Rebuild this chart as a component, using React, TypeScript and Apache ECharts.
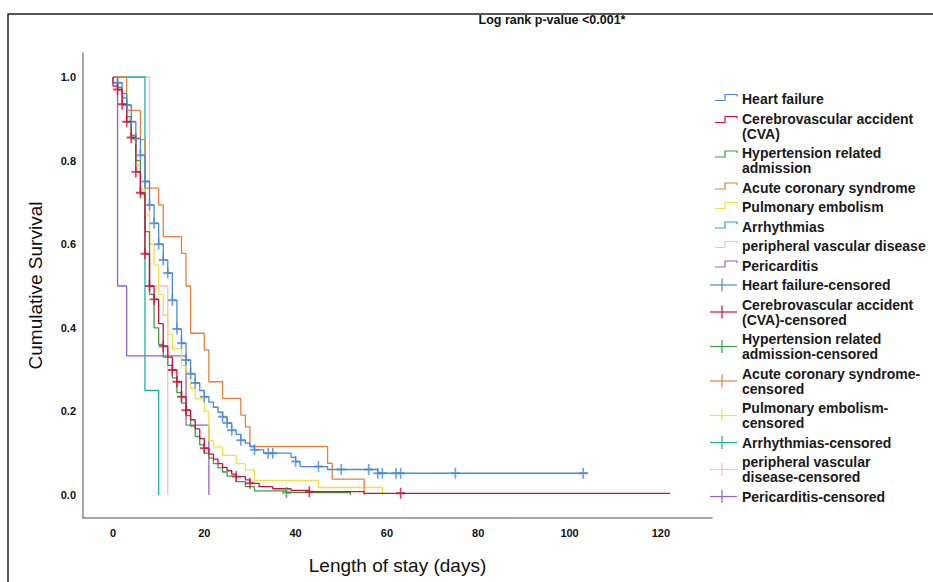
import React, { useEffect, useRef } from "react";
import * as echarts from "echarts";

// ---------- data ----------
const groupNames = [
  "Heart failure",
  "Cerebrovascular accident (CVA)",
  "Hypertension related admission",
  "Acute coronary syndrome",
  "Pulmonary embolism",
  "Arrhythmias",
  "peripheral vascular disease",
  "Pericarditis",
];

const groupColors = ["#4a8ad6", "#c8143c", "#3f9a4a", "#e5803e", "#ece24a", "#1cb3a3", "#f5bccb", "#9b5fc4"];

// Kaplan-Meier steps: [days, cumulative survival]
const hfSurv = [[0,1],[0,0.986],[2,0.96],[3,0.933],[4,0.893],[5,0.853],[6,0.813],[7,0.75],[8,0.694],[9,0.65],[10,0.6],[11,0.562],[12,0.531],[13,0.466],[14,0.397],[15,0.363],[16,0.323],[17,0.29],[18,0.268],[19,0.25],[20,0.235],[21,0.222],[22,0.21],[23,0.198],[24,0.187],[25,0.172],[26,0.155],[27,0.145],[28,0.131],[29,0.124],[30,0.116],[31,0.108],[33,0.1],[39,0.09],[40,0.08],[41,0.068],[47,0.061],[58,0.052],[104,0.052]];
const cvaSurv = [[0,1],[0,0.978],[1,0.97],[2,0.935],[3,0.893],[4,0.855],[5,0.773],[6,0.723],[7,0.577],[8,0.5],[9,0.468],[10,0.41],[11,0.356],[12,0.33],[13,0.299],[14,0.271],[15,0.235],[16,0.203],[17,0.18],[18,0.158],[19,0.135],[20,0.112],[21,0.098],[22,0.086],[23,0.075],[24,0.066],[25,0.058],[26,0.05],[27,0.044],[29,0.036],[30,0.028],[32,0.02],[35,0.015],[39,0.011],[43,0.008],[55,0.004],[122,0.004]];
const htnSurv = [[0,1],[1,0.975],[2,0.95],[3,0.905],[4,0.86],[5,0.8],[6,0.72],[7,0.63],[8,0.48],[9,0.4],[10,0.36],[11,0.33],[12,0.31],[13,0.28],[14,0.245],[15,0.22],[16,0.19],[17,0.165],[18,0.14],[19,0.12],[20,0.1],[21,0.088],[22,0.075],[23,0.065],[24,0.055],[25,0.045],[27,0.032],[29,0.02],[31,0.01],[38,0.006],[52,0]];
const acsSurv = [[0,1],[3,0.92],[6,0.85],[7,0.734],[10,0.694],[11,0.618],[15,0.578],[16,0.5],[17,0.387],[20,0.347],[21,0.271],[24,0.231],[28,0.191],[29,0.163],[30,0.116],[47,0.076],[48,0.038],[55,0]];
const peSurv = [[0,1],[1,0.97],[2,0.95],[3,0.9],[4,0.85],[5,0.79],[6,0.73],[7,0.67],[8,0.6],[9,0.55],[10,0.48],[11,0.43],[12,0.385],[13,0.35],[15,0.31],[16,0.29],[17,0.255],[18,0.23],[20,0.2],[21,0.13],[22,0.115],[24,0.095],[27,0.075],[29,0.06],[31,0.035],[45,0.018],[59,0]];
const arrSurv = [[0,1],[7,0.25],[10,0]];
const pvdSurv = [[0,1],[8,0.5],[12,0]];
const periSurv = [[0,1],[1,0.5],[3,0.333],[16,0.167],[21,0]];

// censored observations: [days, cumulative survival]
const hfCens = [[1,0.986],[3,0.933],[4,0.893],[5,0.853],[6,0.813],[7,0.75],[8,0.694],[9,0.65],[10,0.6],[11,0.562],[12,0.531],[13,0.466],[14,0.397],[15,0.363],[16,0.323],[17,0.29],[18,0.268],[20,0.235],[24,0.187],[25,0.172],[26,0.155],[28,0.131],[31,0.108],[34,0.1],[35,0.1],[40,0.08],[45,0.068],[50,0.061],[56,0.061],[58,0.052],[59,0.052],[62,0.052],[63,0.052],[75,0.052],[103,0.052]];
const cvaCens = [[1,0.97],[2,0.935],[3,0.893],[4,0.855],[5,0.773],[6,0.723],[7,0.577],[8,0.5],[9,0.468],[11,0.356],[13,0.299],[14,0.271],[15,0.235],[16,0.203],[20,0.112],[27,0.044],[30,0.028],[43,0.008],[63,0.004]];
const htnCens = [[38,0.006]];
const acsCens: number[][] = [];
const peCens: number[][] = [];
const arrCens: number[][] = [];
const pvdCens: number[][] = [];
const periCens: number[][] = [];

const xTicks = [0, 20, 40, 60, 80, 100, 120];
const yTicks = [0, 0.2, 0.4, 0.6, 0.8, 1.0];

const titleText = "Log rank p-value <0.001*";
const xAxisTitle = "Length of stay (days)";
const yAxisTitle = "Cumulative Survival";

const legendLines = [
  ["Heart failure"],
  ["Cerebrovascular accident", "(CVA)"],
  ["Hypertension related", "admission"],
  ["Acute coronary syndrome"],
  ["Pulmonary embolism"],
  ["Arrhythmias"],
  ["peripheral vascular disease"],
  ["Pericarditis"],
  ["Heart failure-censored"],
  ["Cerebrovascular accident", "(CVA)-censored"],
  ["Hypertension related", "admission-censored"],
  ["Acute coronary syndrome-", "censored"],
  ["Pulmonary embolism-", "censored"],
  ["Arrhythmias-censored"],
  ["peripheral vascular", "disease-censored"],
  ["Pericarditis-censored"],
];

const survData = [hfSurv, cvaSurv, htnSurv, acsSurv, peSurv, arrSurv, pvdSurv, periSurv];
const censData = [hfCens, cvaCens, htnCens, acsCens, peCens, arrCens, pvdCens, periCens];

const FONT = "'Liberation Sans', Arial, Helvetica, sans-serif";
const CROSS = "path://M4.1,0 L5.9,0 L5.9,4.1 L10,4.1 L10,5.9 L5.9,5.9 L5.9,10 L4.1,10 L4.1,5.9 L0,5.9 L0,4.1 L4.1,4.1 Z";

function buildLegend() {
  const els: any[] = [];
  const L = 15;
  const gap = 4.5;
  let top = 91.5;
  legendLines.forEach((lines, i) => {
    const gi = i % 8;
    const color = groupColors[gi];
    const c1 = top + L / 2;
    const cb = top + (lines.length * L) / 2;
    if (i < 8) {
      const bottom = lines.length > 1 ? c1 + 4 : c1 + 1.5;
      const topY = bottom - 6;
      els.push({
        type: "polyline",
        silent: true,
        shape: { points: [[715, bottom], [725, bottom], [725, topY], [737, topY], [737, topY + 2]] },
        style: { stroke: color, lineWidth: 1.2, fill: null },
      });
    } else {
      els.push({ type: "line", silent: true, shape: { x1: 710, y1: cb, x2: 737, y2: cb }, style: { stroke: color, lineWidth: 1.2 } });
      els.push({ type: "line", silent: true, shape: { x1: 722, y1: cb - 6.5, x2: 722, y2: cb + 6.5 }, style: { stroke: color, lineWidth: 1.2 } });
    }
    lines.forEach((ln, k) => {
      els.push({
        type: "text",
        silent: true,
        x: 742,
        y: top + k * L + L / 2,
        style: {
          text: ln,
          font: `bold 14px ${FONT}`,
          fill: "#1a1a1a",
          verticalAlign: "middle",
          align: "left",
        },
      });
    });
    top += lines.length * L + gap;
  });
  return els;
}

export default function App() {
  const ref = useRef<HTMLDivElement>(null);
  useEffect(() => {
    if (!ref.current) return;
    const chart = echarts.init(ref.current, undefined, { renderer: "svg" });
    const series: any[] = [];
    const order = [6, 5, 7, 4, 2, 3, 0, 1];
    order.forEach((i) => {
      series.push({
        name: groupNames[i],
        type: "line",
        step: "end",
        data: survData[i],
        showSymbol: false,
        silent: true,
        lineStyle: { color: groupColors[i], width: 1.3 },
        z: 2,
      });
    });
    order.forEach((i) => {
      series.push({
        name: groupNames[i] + "-censored",
        type: "scatter",
        data: censData[i],
        symbol: CROSS,
        symbolSize: [9, 11],
        silent: true,
        itemStyle: { color: groupColors[i] },
        z: 3,
      });
    });
    chart.setOption({
      animation: false,
      backgroundColor: "#ffffff",
      grid: { left: 83, top: 53, width: 629, height: 465, containLabel: false },
      xAxis: {
        type: "value",
        min: -6.57,
        max: 131.2,
        name: xAxisTitle,
        nameLocation: "middle",
        nameGap: 47,
        nameTextStyle: { fontFamily: FONT, fontSize: 19, color: "#111", verticalAlign: "middle" },
        axisLine: { onZero: false, lineStyle: { color: "#888", width: 1.5 } },
        axisTick: { show: false },
        splitLine: { show: false },
        axisLabel: {
          customValues: xTicks,
          formatter: (v: number) => String(Math.round(v)),
          fontFamily: FONT,
          fontWeight: "bold",
          fontSize: 11,
          color: "#111",
          margin: 9,
        },
      },
      yAxis: {
        type: "value",
        min: -0.055,
        max: 1.0574,
        name: yAxisTitle,
        nameLocation: "middle",
        nameGap: 48,
        nameRotate: 90,
        nameTextStyle: { fontFamily: FONT, fontSize: 19, color: "#111", verticalAlign: "middle" },
        axisLine: { onZero: false, lineStyle: { color: "#888", width: 1.5 } },
        axisTick: { show: false },
        splitLine: { show: false },
        axisLabel: {
          customValues: yTicks,
          formatter: (v: number) => v.toFixed(1),
          fontFamily: FONT,
          fontWeight: "bold",
          fontSize: 11,
          color: "#111",
          margin: 7,
        },
      },
      graphic: [
        {
          type: "rect",
          silent: true,
          z: -1,
          shape: { x: 8, y: 14, width: 1000, height: 1000 },
          style: { fill: null, stroke: "#222", lineWidth: 1.5 },
        },
        {
          type: "text",
          silent: true,
          x: 552,
          y: 20,
          style: {
            text: titleText,
            font: `bold 12.5px ${FONT}`,
            fill: "#111",
            align: "center",
            verticalAlign: "middle",
          },
        },
        ...buildLegend(),
      ],
      series,
    });
    return () => chart.dispose();
  }, []);
  return <div ref={ref} style={{ position: "fixed", left: 0, top: 0, width: 933, height: 582 }} />;
}
